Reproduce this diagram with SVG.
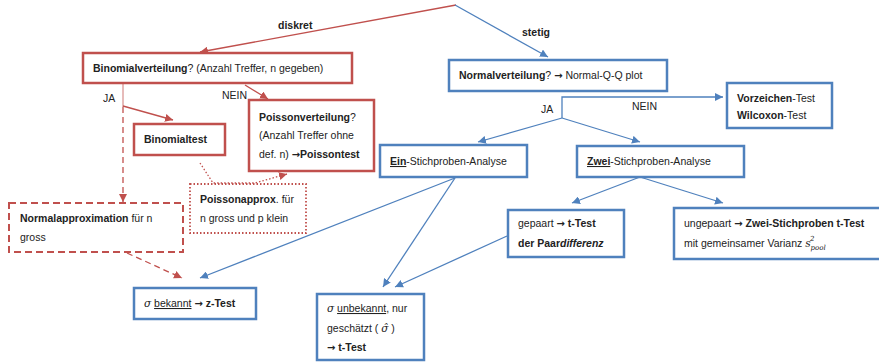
<svg xmlns="http://www.w3.org/2000/svg" width="879" height="363" viewBox="0 0 879 363">
<defs>
<style>
text{font-family:"Liberation Sans",Arial,sans-serif;font-size:10.5px;fill:#222}
.b{font-weight:bold}
.ar{font-family:"DejaVu Sans",sans-serif;font-weight:bold;font-size:10px}
.boxr{fill:#fff;stroke:#C0504D;stroke-width:2.5}
.boxb{fill:#fff;stroke:#4F81BD;stroke-width:2.5}
.lr{fill:none;stroke:#C0504D;stroke-width:1.3}
.lb{fill:none;stroke:#4F81BD;stroke-width:1.3}
.m{font-family:"DejaVu Serif","Liberation Serif",serif;font-style:italic}
</style>
<marker id="ar" viewBox="0 0 10 10" refX="10" refY="5" markerWidth="8" markerHeight="8" markerUnits="userSpaceOnUse" orient="auto"><path d="M0,0L10,5L0,10z" fill="#C0504D"/></marker>
<marker id="ab" viewBox="0 0 10 10" refX="10" refY="5" markerWidth="8" markerHeight="8" markerUnits="userSpaceOnUse" orient="auto"><path d="M0,0L10,5L0,10z" fill="#4F81BD"/></marker>
</defs>
<rect width="879" height="363" fill="#fff"/>
<g id="connectors">
<line class="lr" x1="456" y1="5" x2="200" y2="52" marker-end="url(#ar)"/>
<line class="lb" x1="455" y1="5" x2="548" y2="57" marker-end="url(#ab)"/>
<line class="lr" x1="123" y1="84" x2="123" y2="107" stroke-opacity="0.6"/>
<line class="lr" x1="123" y1="107" x2="123" y2="202" stroke-dasharray="6,4" stroke-width="1.8" marker-end="url(#ar)"/>
<line class="lr" x1="123" y1="106" x2="173" y2="120" marker-end="url(#ar)"/>
<line class="lr" x1="245" y1="85" x2="268" y2="99" marker-end="url(#ar)"/>
<polyline class="lr" points="200,163 213,183 255,183 287,174" stroke-dasharray="1.5,2" stroke-width="1.8" marker-end="url(#ar)"/>
<line class="lr" x1="127" y1="253" x2="182" y2="278" stroke-dasharray="6,4" stroke-width="1.8" marker-end="url(#ar)"/>
<polyline class="lb" points="562,118 562,97 723,97" marker-end="url(#ab)"/>
<line class="lb" x1="562" y1="118" x2="478" y2="142" marker-end="url(#ab)"/>
<line class="lb" x1="562" y1="118" x2="640" y2="142" marker-end="url(#ab)"/>
<line class="lb" x1="455" y1="178" x2="200" y2="278" marker-end="url(#ab)"/>
<line class="lb" x1="455" y1="178" x2="383" y2="287" marker-end="url(#ab)"/>
<line class="lb" x1="507" y1="236" x2="395" y2="287" marker-end="url(#ab)"/>
<line class="lb" x1="640" y1="177" x2="572" y2="203" marker-end="url(#ab)"/>
<line class="lb" x1="640" y1="177" x2="723" y2="203" marker-end="url(#ab)"/>
<text x="278" y="29" class="b">diskret</text>
<text x="522" y="36" class="b">stetig</text>
<text x="103" y="102">JA</text>
<text x="222" y="99">NEIN</text>
<text x="541" y="113">JA</text>
<text x="632" y="110">NEIN</text>
</g>
<g id="binomialverteilung">
<rect class="boxr" x="83" y="53" width="269" height="30"/>
<text x="93" y="72"><tspan class="b">Binomialverteilung</tspan>? (Anzahl Treffer, n gegeben)</text>
</g>
<g id="binomialtest">
<rect class="boxr" x="134" y="124" width="91" height="31"/>
<text x="144" y="143" class="b">Binomialtest</text>
</g>
<g id="poissonverteilung">
<rect class="boxr" x="249" y="100" width="125" height="71"/>
<text x="259" y="121"><tspan class="b">Poissonverteilung</tspan>?</text>
<text x="259" y="139">(Anzahl Treffer ohne</text>
<text x="259" y="158">def. n) <tspan class="ar">→</tspan><tspan class="b">Poissontest</tspan></text>
</g>
<g id="normalapproximation">
<rect x="9" y="203" width="174" height="49" fill="#fff" stroke="#C0504D" stroke-width="2" stroke-dasharray="7,4"/>
<text x="20" y="222"><tspan class="b">Normalapproximation</tspan> für n</text>
<text x="20" y="241">gross</text>
</g>
<g id="poissonapprox">
<rect x="190" y="184" width="116" height="49" fill="#fff" stroke="#C0504D" stroke-width="1.8" stroke-dasharray="1.5,2"/>
<text x="200" y="203"><tspan class="b">Poissonapprox</tspan>. für</text>
<text x="200" y="222">n gross und p klein</text>
</g>
<g id="normalverteilung">
<rect class="boxb" x="449" y="60" width="218" height="31"/>
<text x="459" y="79"><tspan class="b">Normalverteilung</tspan>? <tspan class="ar" font-weight="normal">→</tspan> Normal-Q-Q plot</text>
</g>
<g id="vorzeichen">
<rect class="boxb" x="727" y="83" width="105" height="45"/>
<text x="737" y="102"><tspan class="b">Vorzeichen</tspan>-Test</text>
<text x="737" y="119"><tspan class="b">Wilcoxon</tspan>-Test</text>
</g>
<g id="ein">
<rect class="boxb" x="380" y="145" width="147" height="32"/>
<text x="390" y="165"><tspan class="b" text-decoration="underline">Ein</tspan>-Stichproben-Analyse</text>
</g>
<g id="zwei">
<rect class="boxb" x="577" y="146" width="167" height="31"/>
<text x="587" y="165"><tspan class="b" text-decoration="underline">Zwei</tspan>-Stichproben-Analyse</text>
</g>
<g id="gepaart">
<rect class="boxb" x="508" y="210" width="116" height="47"/>
<text x="518" y="227">gepaart <tspan class="ar">→</tspan><tspan class="b"> t-Test</tspan></text>
<text x="518" y="247" class="b">der Paar<tspan font-style="italic">differenz</tspan></text>
</g>
<g id="ungepaart">
<rect class="boxb" x="674" y="208" width="210" height="51"/>
<text x="684" y="227">ungepaart <tspan class="ar">→</tspan><tspan class="b"> Zwei-Stichproben t-Test</tspan></text>
<text x="684" y="247">mit gemeinsamer Varianz <tspan class="m">s</tspan><tspan class="m" font-size="7" dx="-0.5" dy="-6">2</tspan><tspan class="m" font-size="7" dx="-4" dy="9">pool</tspan></text>
</g>
<g id="ztest">
<rect class="boxb" x="134" y="288" width="122" height="31"/>
<text x="144" y="307"><tspan class="m">σ</tspan> <tspan text-decoration="underline">bekannt</tspan> <tspan class="ar">→</tspan><tspan class="b"> z-Test</tspan></text>
</g>
<g id="ttest">
<rect class="boxb" x="317" y="294" width="107" height="66"/>
<text x="327" y="312"><tspan class="m">σ</tspan> <tspan text-decoration="underline">unbekannt</tspan>, nur</text>
<text x="327" y="332">geschätzt  ( <tspan class="m">σ̂</tspan> )</text>
<text x="327" y="351"><tspan class="ar">→</tspan><tspan class="b"> t-Test</tspan></text>
</g>
</svg>
